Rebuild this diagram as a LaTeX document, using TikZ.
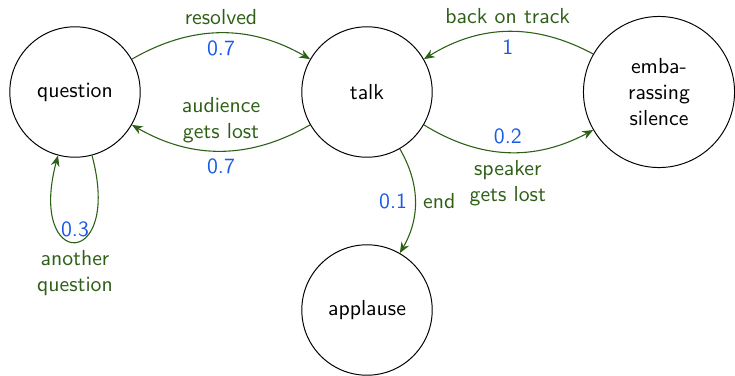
\documentclass[tikz,border=0pt]{standalone}
\usetikzlibrary{arrows.meta}
\definecolor{edgegreen}{RGB}{45,95,22}
\definecolor{problue}{RGB}{25,90,230}
\begin{document}
\begin{tikzpicture}[x=0.46pt,y=-0.46pt,font=\sffamily,
  state/.style={draw=black,circle,line width=0.45pt,minimum size=60pt,inner sep=1pt,align=center},
  trans/.style={draw=edgegreen,line width=0.5pt,-{Stealth[length=5pt,width=4pt]}},
  lab/.style={text=edgegreen,align=center,inner sep=3.5pt},
  prob/.style={text=problue,inner sep=3.5pt}]
\useasboundingbox (0,0) rectangle (735,375);
\node[state] (q) at (75,92) {question};
\node[state] (t) at (367,92) {talk};
\node[state,minimum size=69.5pt] (e) at (659,92) {emba-\\rassing\\silence};
\node[state] (a) at (367,310) {applause};
\draw[trans] (q) to[bend left=30] node[lab,above]{resolved} node[prob,below]{0.7} (t);
\draw[trans] (t) to[bend left=30] node[lab,above]{audience\\gets lost} node[prob,below]{0.7} (q);
\draw[trans] (e) to[bend right=30] node[lab,above]{back on track} node[prob,below]{1} (t);
\draw[trans] (t) to[bend right=30] node[prob,above]{0.2} node[lab,below]{speaker\\gets lost} (e);
\draw[trans] (t) to[bend left=30] node[prob,left]{0.1} node[lab,right]{end} (a);
\draw[trans] (q) to[loop below,looseness=9] node[prob,above,inner sep=2pt]{0.3} node[lab,below]{another\\question} (q);
\end{tikzpicture}
\end{document}
